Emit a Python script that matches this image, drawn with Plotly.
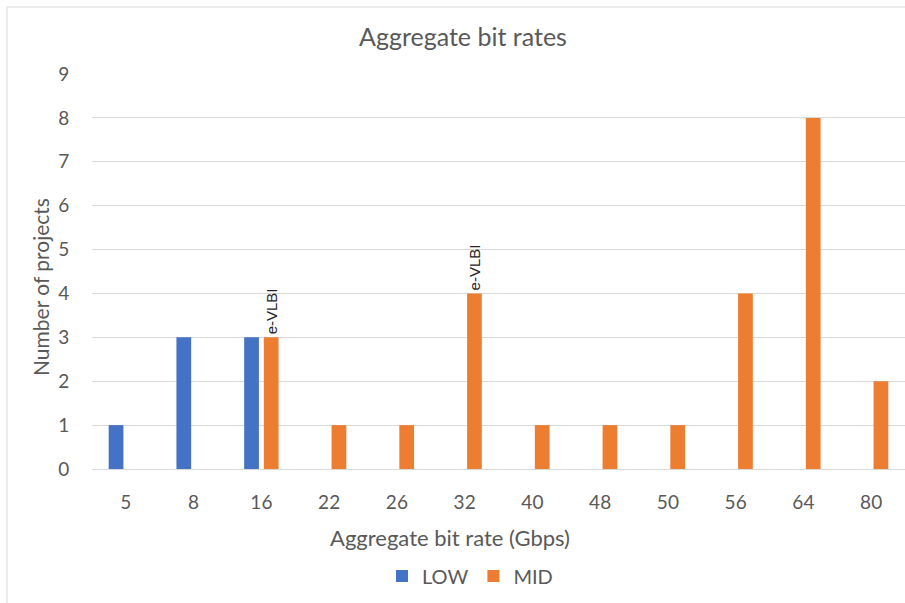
import plotly.graph_objects as go

# Aggregate bit rate categories (Gbps) and project counts per band
rates = ["5", "8", "16", "22", "26", "32", "40", "48", "50", "56", "64", "80"]
low_counts = [1, 3, 3, 0, 0, 0, 0, 0, 0, 0, 0, 0]
mid_counts = [0, 0, 3, 1, 1, 4, 1, 1, 1, 4, 8, 2]
mid_notes = ["", "", "e-VLBI", "", "", "e-VLBI", "", "", "", "", "", ""]

FONT = "Lato, 'Open Sans', sans-serif"
GREY = "#595959"
GRID = "#d9d9d9"

W, H = 905, 603
L, R, T, B = 92, 0, 74, 134
plot_w = W - L - R
plot_h = H - T - B


def px_x(p):
    return (p - L) / plot_w


def px_y(p):
    return (H - B - p) / plot_h


fig = go.Figure()
fig.add_trace(go.Bar(
    name="LOW", x=rates, y=low_counts,
    marker=dict(color="#4472C4", line=dict(width=0)),
))
fig.add_trace(go.Bar(
    name="MID", x=rates, y=mid_counts,
    marker=dict(color="#ED7D31", line=dict(width=0)),
    text=mid_notes, textposition="outside", textangle=-90,
    constraintext="none", cliponaxis=False,
    textfont=dict(family="Arial, 'Liberation Sans', sans-serif", size=15, color="#262626"),
))

# chart frame
fig.add_shape(type="line", xref="paper", yref="paper",
              x0=px_x(7), x1=px_x(7), y0=px_y(7), y1=px_y(610),
              line=dict(color=GRID, width=1))
fig.add_shape(type="line", xref="paper", yref="paper",
              x0=px_x(7), x1=px_x(910), y0=px_y(7), y1=px_y(7),
              line=dict(color=GRID, width=1))

# axis titles
fig.add_annotation(text="Aggregate bit rate (Gbps)", xref="paper", yref="paper",
                   x=px_x(450), y=px_y(537), xanchor="center", yanchor="middle",
                   showarrow=False, font=dict(family=FONT, size=22, color=GREY))
fig.add_annotation(text="Number of projects", xref="paper", yref="paper",
                   x=px_x(40), y=px_y(287), xanchor="center", yanchor="middle",
                   textangle=-90, showarrow=False,
                   font=dict(family=FONT, size=21, color=GREY))

fig.update_layout(
    width=W, height=H,
    margin=dict(l=L, r=R, t=T, b=B),
    paper_bgcolor="white", plot_bgcolor="white",
    barmode="group", bargap=0.42, bargroupgap=0.25,
    font=dict(family=FONT, color=GREY, size=19),
    title=dict(text="Aggregate bit rates", x=463 / W, xanchor="center",
               y=1 - 37 / H, yanchor="middle",
               font=dict(family=FONT, size=25, color=GREY)),
    xaxis=dict(
        type="category", showgrid=False, showline=False, zeroline=False,
        ticks="outside", ticklen=16, tickcolor="rgba(0,0,0,0)",
        tickfont=dict(size=19, color=GREY),
    ),
    yaxis=dict(
        range=[0, 9], dtick=1, showgrid=True, gridcolor=GRID, gridwidth=1,
        zeroline=True, zerolinecolor=GRID, zerolinewidth=1, showline=False,
        ticks="outside", ticklen=18, tickcolor="rgba(0,0,0,0)",
        tickfont=dict(size=19, color=GREY),
    ),
    legend=dict(orientation="h", x=px_x(470), xanchor="center",
                y=px_y(576), yanchor="middle",
                font=dict(size=20, color=GREY), itemwidth=30,
                traceorder="normal"),
    showlegend=True,
)

fig.write_html("out.html")
